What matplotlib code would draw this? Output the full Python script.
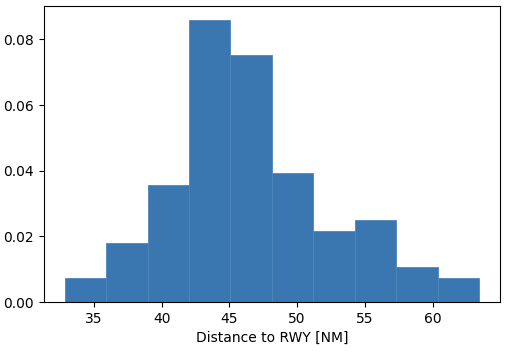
import numpy as np
import matplotlib.pyplot as plt

# bin edges (NM) and density per bin
bin_edges = np.linspace(32.82, 63.46, 11)
density = [0.0072, 0.0179, 0.0358, 0.0859, 0.0752, 0.0394, 0.0215, 0.0251, 0.0107, 0.0072]

fig, ax = plt.subplots(figsize=(5.22, 3.52), dpi=100)
fig.subplots_adjust(left=0.084, right=0.958, top=0.983, bottom=0.142)

ax.hist(bin_edges[:-1], bins=bin_edges, weights=density,
        color="#3a76af", edgecolor="#4d86bb", linewidth=0.6)

ax.set_xlabel("Distance to RWY [NM]")

plt.savefig("out.png")
